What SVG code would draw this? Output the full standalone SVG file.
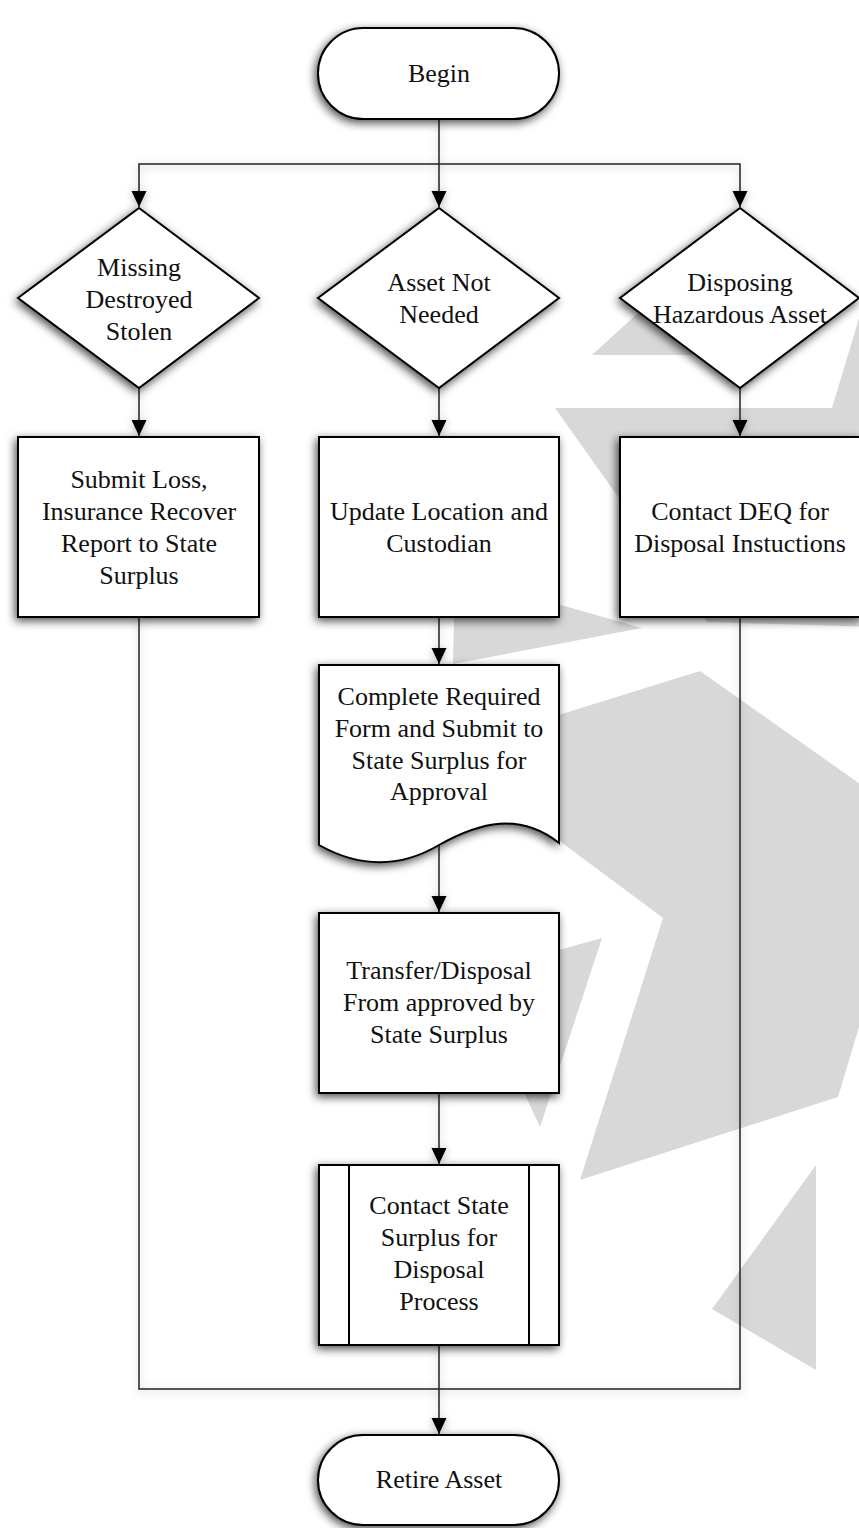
<svg xmlns="http://www.w3.org/2000/svg" width="859" height="1528" viewBox="0 0 859 1528">
<defs>
<style>
.bg{fill:#d8d8d8;stroke:none}
.node{fill:#fff;stroke:#000;stroke-width:2;filter:url(#sh)}
.inner{fill:none;stroke:#000;stroke-width:2}
.t{font-family:"Liberation Serif","Times New Roman",serif;font-size:26px;fill:#111;text-anchor:middle}
.c{fill:none;stroke:#222;stroke-width:1.5}
</style>
<filter id="sh" x="-20%" y="-20%" width="140%" height="140%">
<feDropShadow dx="-2" dy="3" stdDeviation="5" flood-color="#000" flood-opacity="0.7"/>
</filter>
<filter id="lsh" x="-20%" y="-20%" width="140%" height="140%">
<feDropShadow dx="0" dy="2" stdDeviation="4" flood-color="#000" flood-opacity="0.3"/>
</filter>
<marker id="ah" markerUnits="userSpaceOnUse" markerWidth="16" markerHeight="16" refX="16" refY="7.5" orient="auto">
<path d="M0,0 L16,7.5 L0,15 Z" fill="#000"/>
</marker>
</defs>
<rect width="859" height="1528" fill="#fff"/>
<g id="watermark">
<polygon class="bg" points="555,408 832,408 866,295 880,295 880,627 707,622"/>
<polygon class="bg" points="592,355 660,293 700,355"/>
<polygon class="bg" points="455,575 642,628 453,664"/>
<polygon class="bg" points="440,752 700,671 880,798 880,957 838,1097 580,1180 663,918"/>
<polygon class="bg" points="470,975 602,938 540,1127"/>
<polygon class="bg" points="816,1165 712,1309 816,1370"/>
</g>
<g id="connectors" filter="url(#lsh)">
<path class="c" d="M439,119 V207" marker-end="url(#ah)"/>
<path class="c" d="M439,164 H139 V207" marker-end="url(#ah)"/>
<path class="c" d="M439,164 H740 V207" marker-end="url(#ah)"/>
<path class="c" d="M139,388 V436" marker-end="url(#ah)"/>
<path class="c" d="M439,388 V436" marker-end="url(#ah)"/>
<path class="c" d="M740,388 V436" marker-end="url(#ah)"/>
<path class="c" d="M439,617 V664" marker-end="url(#ah)"/>
<path class="c" d="M439,845 V912" marker-end="url(#ah)"/>
<path class="c" d="M439,1093 V1164" marker-end="url(#ah)"/>
<path class="c" d="M439,1345 V1434" marker-end="url(#ah)"/>
<path class="c" d="M139,617 V1389 H439"/>
<path class="c" d="M740,617 V1389 H439"/>
</g>
<g id="begin">
<rect class="node" x="318" y="28" width="241" height="91" rx="45.5"/>
<text class="t" x="439" y="82">Begin</text>
</g>
<g id="missing">
<polygon class="node" points="139,208 259,298 139,388 18,298"/>
<text class="t" x="139" y="276">Missing</text>
<text class="t" x="139" y="308">Destroyed</text>
<text class="t" x="139" y="340">Stolen</text>
</g>
<g id="notneeded">
<polygon class="node" points="439,208 559,298 439,388 318,298"/>
<text class="t" x="439" y="291">Asset Not</text>
<text class="t" x="439" y="323">Needed</text>
</g>
<g id="hazardous">
<polygon class="node" points="740,208 859,298 740,388 620,298"/>
<text class="t" x="740" y="291">Disposing</text>
<text class="t" x="740" y="323">Hazardous Asset</text>
</g>
<g id="submitloss">
<rect class="node" x="18" y="437" width="241" height="180"/>
<text class="t" x="139" y="488">Submit Loss,</text>
<text class="t" x="139" y="520">Insurance Recover</text>
<text class="t" x="139" y="552">Report to State</text>
<text class="t" x="139" y="584">Surplus</text>
</g>
<g id="update">
<rect class="node" x="319" y="437" width="240" height="180"/>
<text class="t" x="439" y="520">Update Location and</text>
<text class="t" x="439" y="552">Custodian</text>
</g>
<g id="deq">
<rect class="node" x="620" y="437" width="241" height="180"/>
<text class="t" x="740" y="520">Contact DEQ for</text>
<text class="t" x="740" y="552">Disposal Instuctions</text>
</g>
<g id="form">
<path class="node" d="M319,665 H559 V843 C520,812 480,822 439,845 C400,868 360,868 319,845 Z"/>
<text class="t" x="439" y="705">Complete Required</text>
<text class="t" x="439" y="737">Form and Submit to</text>
<text class="t" x="439" y="769">State Surplus for</text>
<text class="t" x="439" y="800">Approval</text>
</g>
<g id="transfer">
<rect class="node" x="319" y="913" width="240" height="180"/>
<text class="t" x="439" y="979">Transfer/Disposal</text>
<text class="t" x="439" y="1011">From approved by</text>
<text class="t" x="439" y="1043">State Surplus</text>
</g>
<g id="contact">
<rect class="node" x="319" y="1165" width="240" height="180"/>
<line class="inner" x1="349" y1="1165" x2="349" y2="1345"/>
<line class="inner" x1="529" y1="1165" x2="529" y2="1345"/>
<text class="t" x="439" y="1214">Contact State</text>
<text class="t" x="439" y="1246">Surplus for</text>
<text class="t" x="439" y="1278">Disposal</text>
<text class="t" x="439" y="1310">Process</text>
</g>
<g id="retire">
<rect class="node" x="318" y="1435" width="241" height="90" rx="45"/>
<text class="t" x="439" y="1488">Retire Asset</text>
</g>
</svg>
